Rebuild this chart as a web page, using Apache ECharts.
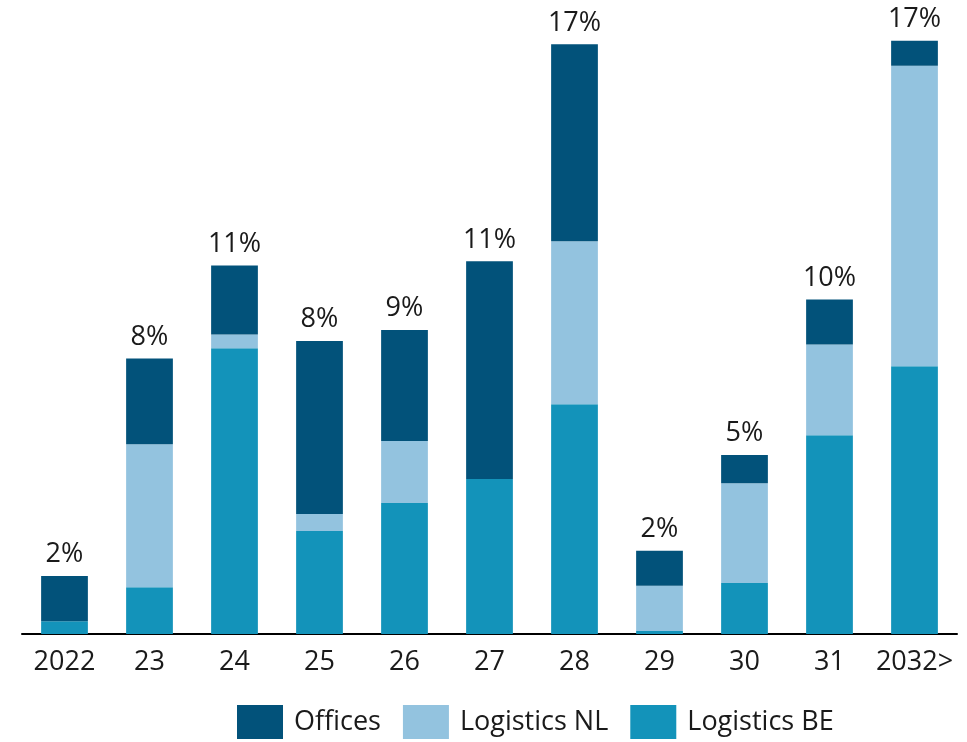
<!DOCTYPE html>
<html>
<head>
<meta charset="utf-8">
<script src="https://cdn.jsdelivr.net/npm/echarts@6/dist/echarts.min.js"></script>
<style>
    html, body { margin: 0; padding: 0; background: #fff; }
    #chart { width: 967px; height: 742px; }
</style>
</head>
<body>
<div id="chart"></div>
<script>
// categories and values (share of total, %)
var years = ['2022', '23', '24', '25', '26', '27', '28', '29', '30', '31', '2032>'];
var logisticsBE = [0.37, 1.35, 8.24, 2.97, 3.78, 4.47, 6.63, 0.09, 1.47, 5.73, 7.72];
var logisticsNL = [0, 4.12, 0.40, 0.49, 1.79, 0, 4.70, 1.30, 2.88, 2.62, 8.67];
var offices = [1.30, 2.48, 1.99, 4.99, 3.20, 6.28, 5.68, 1.01, 0.81, 1.30, 0.72];
var totalLabels = ['2%', '8%', '11%', '8%', '9%', '11%', '17%', '2%', '5%', '10%', '17%'];

var font = '"Open Sans", "Noto Sans", sans-serif';

var myChart = echarts.init(document.getElementById('chart'));
var option = {
    animation: false,
    textStyle: { fontFamily: font },
    grid: {
        left: 22,
        right: 10,
        top: 10,
        bottom: 108
    },
    legend: {
        data: ['Offices', 'Logistics NL', 'Logistics BE'],
        top: 705,
        left: 237,
        padding: 0,
        itemWidth: 46,
        itemHeight: 34,
        itemGap: 22,
        icon: 'rect',
        textStyle: { fontSize: 27, color: '#1a1a1a', fontFamily: font, padding: [0, 0, 0, 6] }
    },
    xAxis: {
        type: 'category',
        data: years,
        axisLine: { lineStyle: { color: '#000', width: 2 } },
        axisTick: { show: false },
        axisLabel: { interval: 0, fontSize: 27, color: '#1a1a1a', margin: 15, fontFamily: font }
    },
    yAxis: {
        type: 'value',
        min: 0,
        max: 18,
        show: false,
        splitLine: { show: false }
    },
    series: [
        {
            name: 'Logistics BE',
            type: 'bar',
            stack: 'total',
            barWidth: '55%',
            data: logisticsBE,
            itemStyle: { color: '#1393BA' }
        },
        {
            name: 'Logistics NL',
            type: 'bar',
            stack: 'total',
            data: logisticsNL,
            itemStyle: { color: '#93C3DF' }
        },
        {
            name: 'Offices',
            type: 'bar',
            stack: 'total',
            data: offices,
            itemStyle: { color: '#02527A' },
            label: {
                show: true,
                position: 'top',
                distance: 8,
                fontSize: 27,
                color: '#1a1a1a',
                fontFamily: font,
                formatter: function (p) {
                    return totalLabels[p.dataIndex];
                }
            }
        }
    ]
};
myChart.setOption(option);
</script>
</body>
</html>
